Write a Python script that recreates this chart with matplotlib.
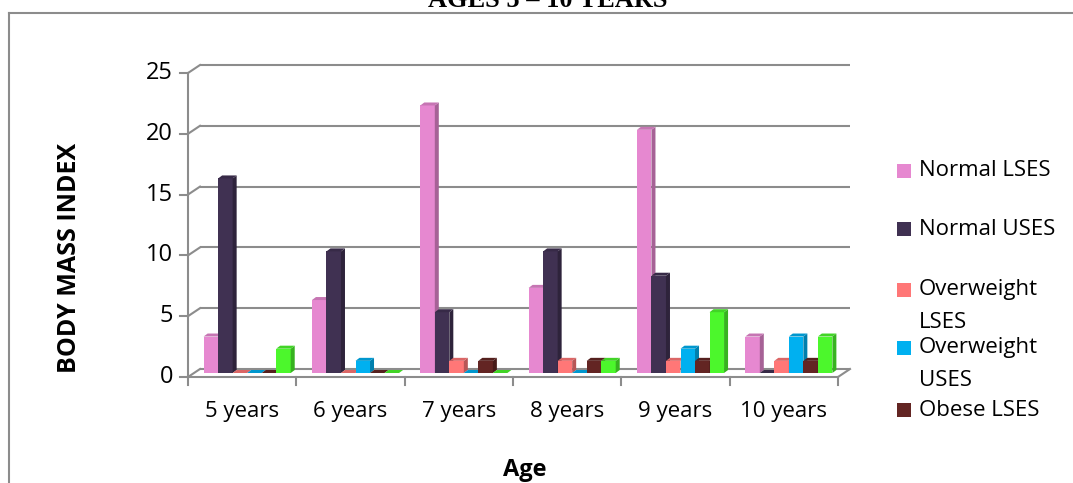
import numpy as np
import matplotlib.pyplot as plt
from matplotlib.patches import Polygon, Rectangle
from matplotlib.lines import Line2D

# data
ages = ['5 years', '6 years', '7 years', '8 years', '9 years', '10 years']
normal_lses = [3, 6, 22, 7, 20, 3]
normal_uses = [16, 10, 5, 10, 8, 0]
overweight_lses = [0, 0, 1, 1, 1, 1]
overweight_uses = [0, 1, 0, 0, 2, 3]
obese_lses = [0, 0, 1, 1, 1, 1]
obese_uses = [2, 0, 0, 1, 5, 3]
series_names = ['Normal LSES', 'Normal USES', 'Overweight\nLSES', 'Overweight\nUSES', 'Obese LSES']
y_ticks = [0, 5, 10, 15, 20, 25]

series = [normal_lses, normal_uses, overweight_lses, overweight_uses, obese_lses, obese_uses]
colors = ['#E688D0', '#403152', '#FF7777', '#00B0F0', '#632523', '#4CF72C']

W, H = 1073, 483
fig = plt.figure(figsize=(W / 100, H / 100), dpi=100)
fig.patch.set_facecolor('white')

# axes = back wall plane
ax_left, ax_right = 200, 850
ax_bot, ax_top = 369, 65
ax = fig.add_axes([ax_left / W, (H - ax_bot) / H, (ax_right - ax_left) / W, (ax_bot - ax_top) / H])
ax.set_xlim(0, 6)
ax.set_ylim(0, 25)
ax.axis('off')

px_x = (ax_right - ax_left) / 6.0   # pixels per x unit
px_y = (ax_bot - ax_top) / 25.0     # pixels per y unit

def dx(p):
    return p / px_x

def dy(p):
    return p / px_y

grid_col = '#8C8C8C'
lw = 1.5
font = 'Open Sans'
fs = 16

# front plane offset (pixels)
fx, fy = -12, -8

# gridlines on back wall + side wall diagonals
for v in y_ticks:
    ax.plot([0, 6], [v, v], color=grid_col, lw=lw, clip_on=False, zorder=1, solid_capstyle='butt')
    ax.plot([dx(fx), 0], [v + dy(fy), v], color=grid_col, lw=lw, clip_on=False, zorder=1)
    # tick mark on front axis
    ax.plot([dx(fx - 8), dx(fx)], [v + dy(fy), v + dy(fy)], color=grid_col, lw=lw, clip_on=False, zorder=1)
    ax.text(dx(fx - 15), v + dy(fy), str(v), ha='right', va='center', fontsize=17, family=font)

# front vertical axis
ax.plot([dx(fx), dx(fx)], [dy(fy), 25 + dy(fy)], color=grid_col, lw=lw, clip_on=False, zorder=1)
# floor front edge and right diagonal
ax.plot([dx(fx), 6 + dx(fx)], [dy(fy), dy(fy)], color=grid_col, lw=lw, clip_on=False, zorder=1)
ax.plot([6 + dx(fx), 6], [dy(fy), 0], color=grid_col, lw=lw, clip_on=False, zorder=1)

# category ticks and labels
for i in range(len(ages) + 1):
    ax.plot([i + dx(fx), i + dx(fx)], [dy(fy), dy(fy - 8)], color=grid_col, lw=lw, clip_on=False, zorder=1)
for i, lab in enumerate(ages):
    ax.text(i + 0.5 + dx(fx), dy(fy - 34), lab, ha='center', va='center', fontsize=fs, family=font)

# bars at middle depth
mx, my = -6, -4
bw = 0.134
ddx, ddy = dx(4), dy(3)
n = len(series)
z = 3
for i in range(len(ages)):
    start = i + 0.5 - n * bw / 2 + dx(mx) + dx(-1)
    for j, (vals, c) in enumerate(zip(series, colors)):
        v = vals[i]
        x0 = start + j * bw
        x1 = x0 + bw
        y0 = dy(my)
        y1 = v + dy(my)
        rgb = np.array(plt.matplotlib.colors.to_rgb(c))
        side = rgb * 0.72
        top = rgb * 0.86
        if v > 0:
            ax.add_patch(Rectangle((x0, y0), bw, v, facecolor=c, edgecolor='none', zorder=z, clip_on=False))
            ax.add_patch(Polygon([(x1, y0), (x1 + ddx, y0 + ddy), (x1 + ddx, y1 + ddy), (x1, y1)],
                                 facecolor=side, edgecolor='none', zorder=z, clip_on=False))
        ax.add_patch(Polygon([(x0, y1), (x1, y1), (x1 + ddx, y1 + ddy), (x0 + ddx, y1 + ddy)],
                             facecolor=top, edgecolor='none', zorder=z, clip_on=False))
        z += 1

# axis titles
fig.text(70 / W, 1 - 258 / H, 'BODY MASS INDEX', rotation=90, ha='center', va='center',
         fontsize=18, fontweight='bold', family=font)
fig.text(525 / W, 1 - 470 / H, 'Age', ha='center', va='center', fontsize=17, fontweight='bold', family=font)

# chart title, cut off at the top like the reference
fig.text(548 / W, 1 - 7 / H, 'AGES 5 \u2013 10 YEARS', ha='center', va='baseline', fontsize=19,
         fontweight='bold', family='Liberation Serif')

# outer border
fig.add_artist(Line2D([9 / W, 9 / W], [0, 1 - 13 / H], color='#8C8C8C', lw=1.5))
fig.add_artist(Line2D([9 / W, 1], [1 - 13 / H, 1 - 13 / H], color='#8C8C8C', lw=1.5))

# legend drawn by hand (entries past the bottom are clipped in the reference)
leg_y = [171, 229, 290, 348, 410]
for name, c, yy in zip(series_names, colors, leg_y):
    fig.add_artist(Rectangle((897 / W, 1 - (yy + 7) / H), 14 / W, 14 / H, facecolor=c, edgecolor='none'))
    if '\n' in name:
        first, second = name.split('\n')
        fig.text(919 / W, 1 - yy / H, first, ha='left', va='center', fontsize=fs, family=font)
        fig.text(919 / W, 1 - (yy + 32) / H, second, ha='left', va='center', fontsize=fs, family=font)
    else:
        fig.text(919 / W, 1 - yy / H, name, ha='left', va='center', fontsize=fs, family=font)

fig.savefig('out.png', dpi=100)
